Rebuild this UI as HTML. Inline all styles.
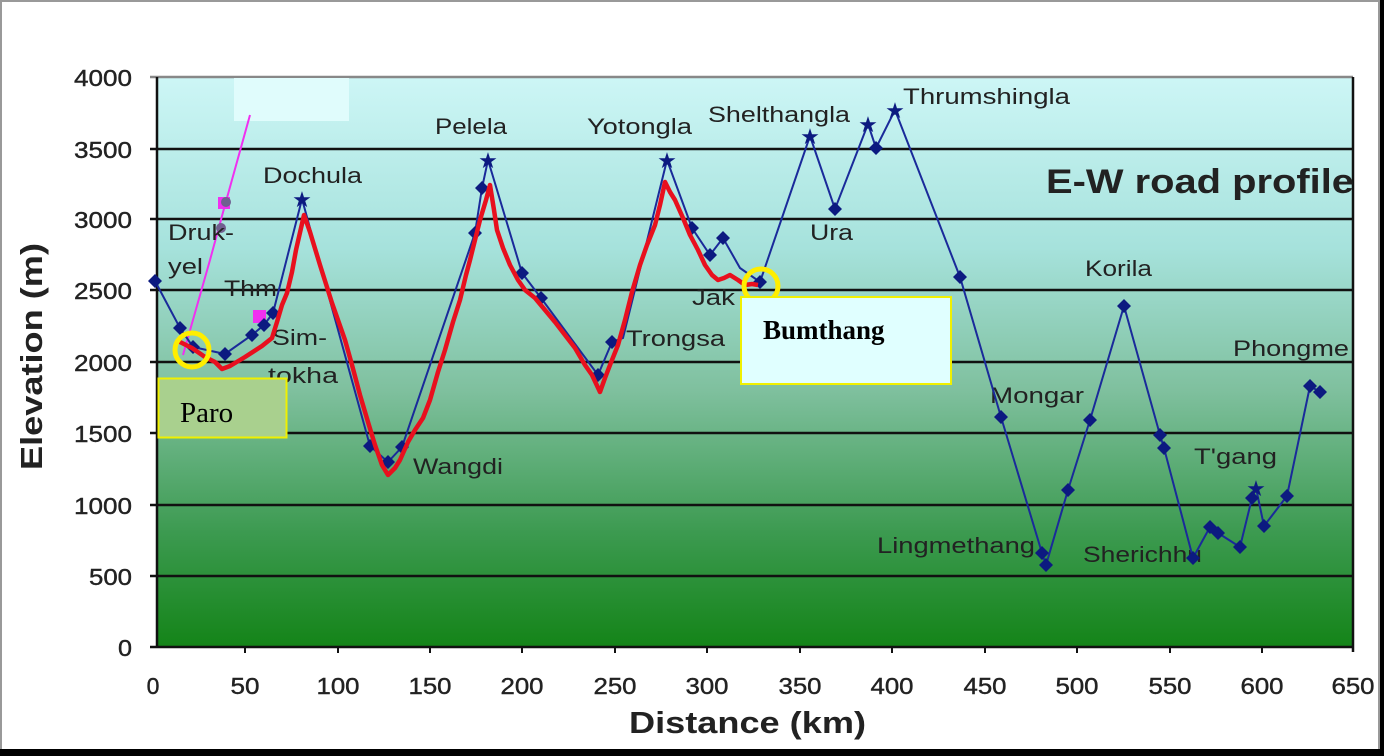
<!DOCTYPE html>
<html><head><meta charset="utf-8"><style>
html,body{margin:0;padding:0;background:#fff;}
svg{display:block;font-family:"Liberation Sans",Arial,sans-serif;}
</style></head><body>
<svg width="1384" height="756" viewBox="0 0 1384 756">
<defs>
<linearGradient id="bg" x1="0" y1="0" x2="0" y2="1">
<stop offset="0" stop-color="#cdf6f6"/>
<stop offset="0.3" stop-color="#a6e2dc"/>
<stop offset="0.55" stop-color="#7fc09e"/>
<stop offset="0.8" stop-color="#3c9a50"/>
<stop offset="1" stop-color="#148418"/>
</linearGradient>
</defs>
<rect x="0" y="0" width="1384" height="756" fill="#fff"/>
<rect x="1" y="1" width="1378" height="760" fill="none" stroke="#999" stroke-width="2"/>
<rect x="1380" y="0" width="4" height="756" fill="#000"/>
<rect x="0" y="749" width="1384" height="7" fill="#000"/>
<rect x="157" y="77" width="1196" height="570" fill="url(#bg)"/>
<g stroke="#111" stroke-width="2.5">
<line x1="150" y1="77" x2="1353" y2="77" stroke="#888"/>
<line x1="150" y1="149" x2="1353" y2="149"/>
<line x1="150" y1="219" x2="1353" y2="219"/>
<line x1="150" y1="290" x2="1353" y2="290"/>
<line x1="150" y1="362" x2="1353" y2="362"/>
<line x1="150" y1="433" x2="1353" y2="433"/>
<line x1="150" y1="505" x2="1353" y2="505"/>
<line x1="150" y1="576" x2="1353" y2="576"/>
<line x1="150" y1="647" x2="1353" y2="647"/>
<line x1="157" y1="77" x2="157" y2="647"/>
<line x1="1353" y1="77" x2="1353" y2="652"/>
</g>
<g stroke="#111" stroke-width="2">
<line x1="245" y1="647" x2="245" y2="653"/><line x1="338" y1="647" x2="338" y2="653"/><line x1="430" y1="647" x2="430" y2="653"/><line x1="522" y1="647" x2="522" y2="653"/><line x1="615" y1="647" x2="615" y2="653"/><line x1="707" y1="647" x2="707" y2="653"/><line x1="800" y1="647" x2="800" y2="653"/><line x1="892" y1="647" x2="892" y2="653"/><line x1="985" y1="647" x2="985" y2="653"/><line x1="1077" y1="647" x2="1077" y2="653"/><line x1="1170" y1="647" x2="1170" y2="653"/><line x1="1262" y1="647" x2="1262" y2="653"/>
</g>
<g font-size="23" fill="#222" stroke="#222" stroke-width="0.4" text-anchor="end" lengthAdjust="spacingAndGlyphs">
<text x="132" y="86" textLength="58" lengthAdjust="spacingAndGlyphs">4000</text><text x="132" y="158" textLength="58" lengthAdjust="spacingAndGlyphs">3500</text><text x="132" y="228" textLength="58" lengthAdjust="spacingAndGlyphs">3000</text><text x="132" y="299" textLength="58" lengthAdjust="spacingAndGlyphs">2500</text><text x="132" y="371" textLength="58" lengthAdjust="spacingAndGlyphs">2000</text><text x="132" y="442" textLength="58" lengthAdjust="spacingAndGlyphs">1500</text><text x="132" y="514" textLength="58" lengthAdjust="spacingAndGlyphs">1000</text><text x="132" y="585" textLength="43" lengthAdjust="spacingAndGlyphs">500</text><text x="132" y="656" textLength="14" lengthAdjust="spacingAndGlyphs">0</text>
</g>
<g font-size="23" fill="#222" stroke="#222" stroke-width="0.4" text-anchor="middle">
<text x="153" y="694">0</text><text x="245" y="694" textLength="29" lengthAdjust="spacingAndGlyphs">50</text><text x="338" y="694" textLength="43" lengthAdjust="spacingAndGlyphs">100</text><text x="430" y="694" textLength="43" lengthAdjust="spacingAndGlyphs">150</text><text x="522" y="694" textLength="43" lengthAdjust="spacingAndGlyphs">200</text><text x="615" y="694" textLength="43" lengthAdjust="spacingAndGlyphs">250</text><text x="707" y="694" textLength="43" lengthAdjust="spacingAndGlyphs">300</text><text x="800" y="694" textLength="43" lengthAdjust="spacingAndGlyphs">350</text><text x="892" y="694" textLength="43" lengthAdjust="spacingAndGlyphs">400</text><text x="985" y="694" textLength="43" lengthAdjust="spacingAndGlyphs">450</text><text x="1077" y="694" textLength="43" lengthAdjust="spacingAndGlyphs">500</text><text x="1170" y="694" textLength="43" lengthAdjust="spacingAndGlyphs">550</text><text x="1262" y="694" textLength="43" lengthAdjust="spacingAndGlyphs">600</text><text x="1353" y="694" textLength="43" lengthAdjust="spacingAndGlyphs">650</text>
</g>
<text x="629" y="733" font-size="31" font-weight="bold" fill="#222" textLength="237" lengthAdjust="spacingAndGlyphs">Distance (km)</text>
<text transform="translate(42,470) rotate(-90)" font-size="31" font-weight="bold" fill="#222" textLength="227" lengthAdjust="spacingAndGlyphs">Elevation (m)</text>
<text x="1046" y="193" font-size="34" font-weight="bold" fill="#222" textLength="308" lengthAdjust="spacingAndGlyphs">E-W road profile</text>
<rect x="234" y="78" width="115" height="43" fill="#e0fcfc"/>
<polyline points="183,355 210,260 225,205 250,115" fill="none" stroke="#f030f0" stroke-width="2"/>
<rect x="218" y="197" width="12" height="12" fill="#f030f0"/>
<rect x="253" y="310" width="13" height="13" fill="#f030f0"/>
<circle cx="226" cy="202" r="5" fill="#706090"/>
<circle cx="221" cy="228" r="5" fill="#706090"/>
<g font-size="22" fill="#222" lengthAdjust="spacingAndGlyphs">
<text x="168" y="240" textLength="66" lengthAdjust="spacingAndGlyphs">Druk-</text><text x="168" y="274" textLength="35" lengthAdjust="spacingAndGlyphs">yel</text>
<text x="224" y="296" textLength="53" lengthAdjust="spacingAndGlyphs">Thm</text>
<text x="272" y="345" textLength="55" lengthAdjust="spacingAndGlyphs">Sim-</text><text x="268" y="383" textLength="70" lengthAdjust="spacingAndGlyphs">tokha</text>
<text x="263" y="183" textLength="99" lengthAdjust="spacingAndGlyphs">Dochula</text>
<text x="413" y="474" textLength="90" lengthAdjust="spacingAndGlyphs">Wangdi</text>
<text x="435" y="134" textLength="72" lengthAdjust="spacingAndGlyphs">Pelela</text>
<text x="587" y="134" textLength="105" lengthAdjust="spacingAndGlyphs">Yotongla</text>
<text x="626" y="346" textLength="99" lengthAdjust="spacingAndGlyphs">Trongsa</text>
<text x="692" y="305" textLength="43" lengthAdjust="spacingAndGlyphs">Jak</text>
<text x="708" y="122" textLength="142" lengthAdjust="spacingAndGlyphs">Shelthangla</text>
<text x="810" y="240" textLength="43" lengthAdjust="spacingAndGlyphs">Ura</text>
<text x="903" y="104" textLength="167" lengthAdjust="spacingAndGlyphs">Thrumshingla</text>
<text x="1085" y="276" textLength="67" lengthAdjust="spacingAndGlyphs">Korila</text>
<text x="1233" y="356" textLength="116" lengthAdjust="spacingAndGlyphs">Phongme</text>
<text x="990" y="403" textLength="94" lengthAdjust="spacingAndGlyphs">Mongar</text>
<text x="1194" y="464" textLength="83" lengthAdjust="spacingAndGlyphs">T'gang</text>
<text x="877" y="553" textLength="158" lengthAdjust="spacingAndGlyphs">Lingmethang</text>
<text x="1083" y="562" textLength="119" lengthAdjust="spacingAndGlyphs">Sherichhu</text>
</g>
<polyline fill="none" stroke="#1a2a9a" stroke-width="2" points="155,281 180,328 193,347 225,354 252,335 264,325 273,313 302,199 370,446 388,462 402,447 475,233 482,188 488,160 522,273 541,298 598,375 612,342 623,338 667,160 692,228 710,255 723,238 740,268 760,282 810,136 835,209 868,124 876,148 895,110 960,277 1001,417 1042,553 1046,565 1068,490 1090,420 1124,306 1160,435 1164,448 1193,558 1210,527 1218,533 1240,547 1252,498 1256,488 1264,526 1287,496 1310,386 1320,392"/>
<g fill="#0c1a80">
<path d="M155,274l7,7l-7,7l-7,-7z M180,321l7,7l-7,7l-7,-7z M193,340l7,7l-7,7l-7,-7z M225,347l7,7l-7,7l-7,-7z M252,328l7,7l-7,7l-7,-7z M264,318l7,7l-7,7l-7,-7z M273,306l7,7l-7,7l-7,-7z M370,439l7,7l-7,7l-7,-7z M388,455l7,7l-7,7l-7,-7z M402,440l7,7l-7,7l-7,-7z M475,226l7,7l-7,7l-7,-7z M482,181l7,7l-7,7l-7,-7z M522,266l7,7l-7,7l-7,-7z M541,291l7,7l-7,7l-7,-7z M598,368l7,7l-7,7l-7,-7z M612,335l7,7l-7,7l-7,-7z M692,221l7,7l-7,7l-7,-7z M710,248l7,7l-7,7l-7,-7z M723,231l7,7l-7,7l-7,-7z M760,275l7,7l-7,7l-7,-7z M835,202l7,7l-7,7l-7,-7z M876,141l7,7l-7,7l-7,-7z M960,270l7,7l-7,7l-7,-7z M1001,410l7,7l-7,7l-7,-7z M1042,546l7,7l-7,7l-7,-7z M1046,558l7,7l-7,7l-7,-7z M1068,483l7,7l-7,7l-7,-7z M1090,413l7,7l-7,7l-7,-7z M1124,299l7,7l-7,7l-7,-7z M1160,428l7,7l-7,7l-7,-7z M1164,441l7,7l-7,7l-7,-7z M1193,551l7,7l-7,7l-7,-7z M1210,520l7,7l-7,7l-7,-7z M1218,526l7,7l-7,7l-7,-7z M1240,540l7,7l-7,7l-7,-7z M1252,491l7,7l-7,7l-7,-7z M1264,519l7,7l-7,7l-7,-7z M1287,489l7,7l-7,7l-7,-7z M1310,379l7,7l-7,7l-7,-7z M1320,385l7,7l-7,7l-7,-7z"/>
</g>
<g fill="#0c1a80" font-size="22" text-anchor="middle">
<text x="302" y="207">★</text><text x="488" y="168">★</text><text x="667" y="168">★</text><text x="810" y="144">★</text><text x="868" y="132">★</text><text x="895" y="118">★</text><text x="1256" y="496">★</text>
</g>
<polyline fill="none" stroke="#e8101e" stroke-width="4.5" stroke-linejoin="round" points="178,341 192,348 205,357 215,362 222,369 230,366 245,357 262,346 272,338 277,322 282,305 287,293 292,272 296,250 304,215 310,232 320,265 332,303 345,340 352,365 360,395 368,422 375,445 382,465 388,475 395,468 400,460 408,442 415,430 423,418 430,400 438,372 445,350 453,322 460,300 466,275 470,260 475,240 480,220 486,200 490,185 494,210 497,230 503,248 510,265 518,280 525,290 535,298 545,310 555,322 565,335 575,348 585,365 592,375 600,392 605,378 610,365 618,345 625,320 632,292 640,265 647,245 655,225 660,205 665,182 670,192 675,200 683,218 690,235 698,250 705,265 712,275 718,280 724,278 730,275 738,280 745,285 752,284 758,285"/>
<circle cx="192" cy="350" r="17" fill="none" stroke="#ffee00" stroke-width="5"/>
<circle cx="761" cy="286" r="17" fill="none" stroke="#ffee00" stroke-width="5"/>
<rect x="158.5" y="378.5" width="128" height="59" fill="#a9d08e" stroke="#f0f000" stroke-width="2"/>
<text x="180" y="422" font-family="Liberation Serif,serif" font-size="29" fill="#000">Paro</text>
<rect x="741" y="297" width="210" height="87" fill="#e0ffff" stroke="#f0f000" stroke-width="2"/>
<text x="763" y="339" font-family="Liberation Serif,serif" font-size="27" font-weight="bold" fill="#000">Bumthang</text>
</svg>
</body></html>
